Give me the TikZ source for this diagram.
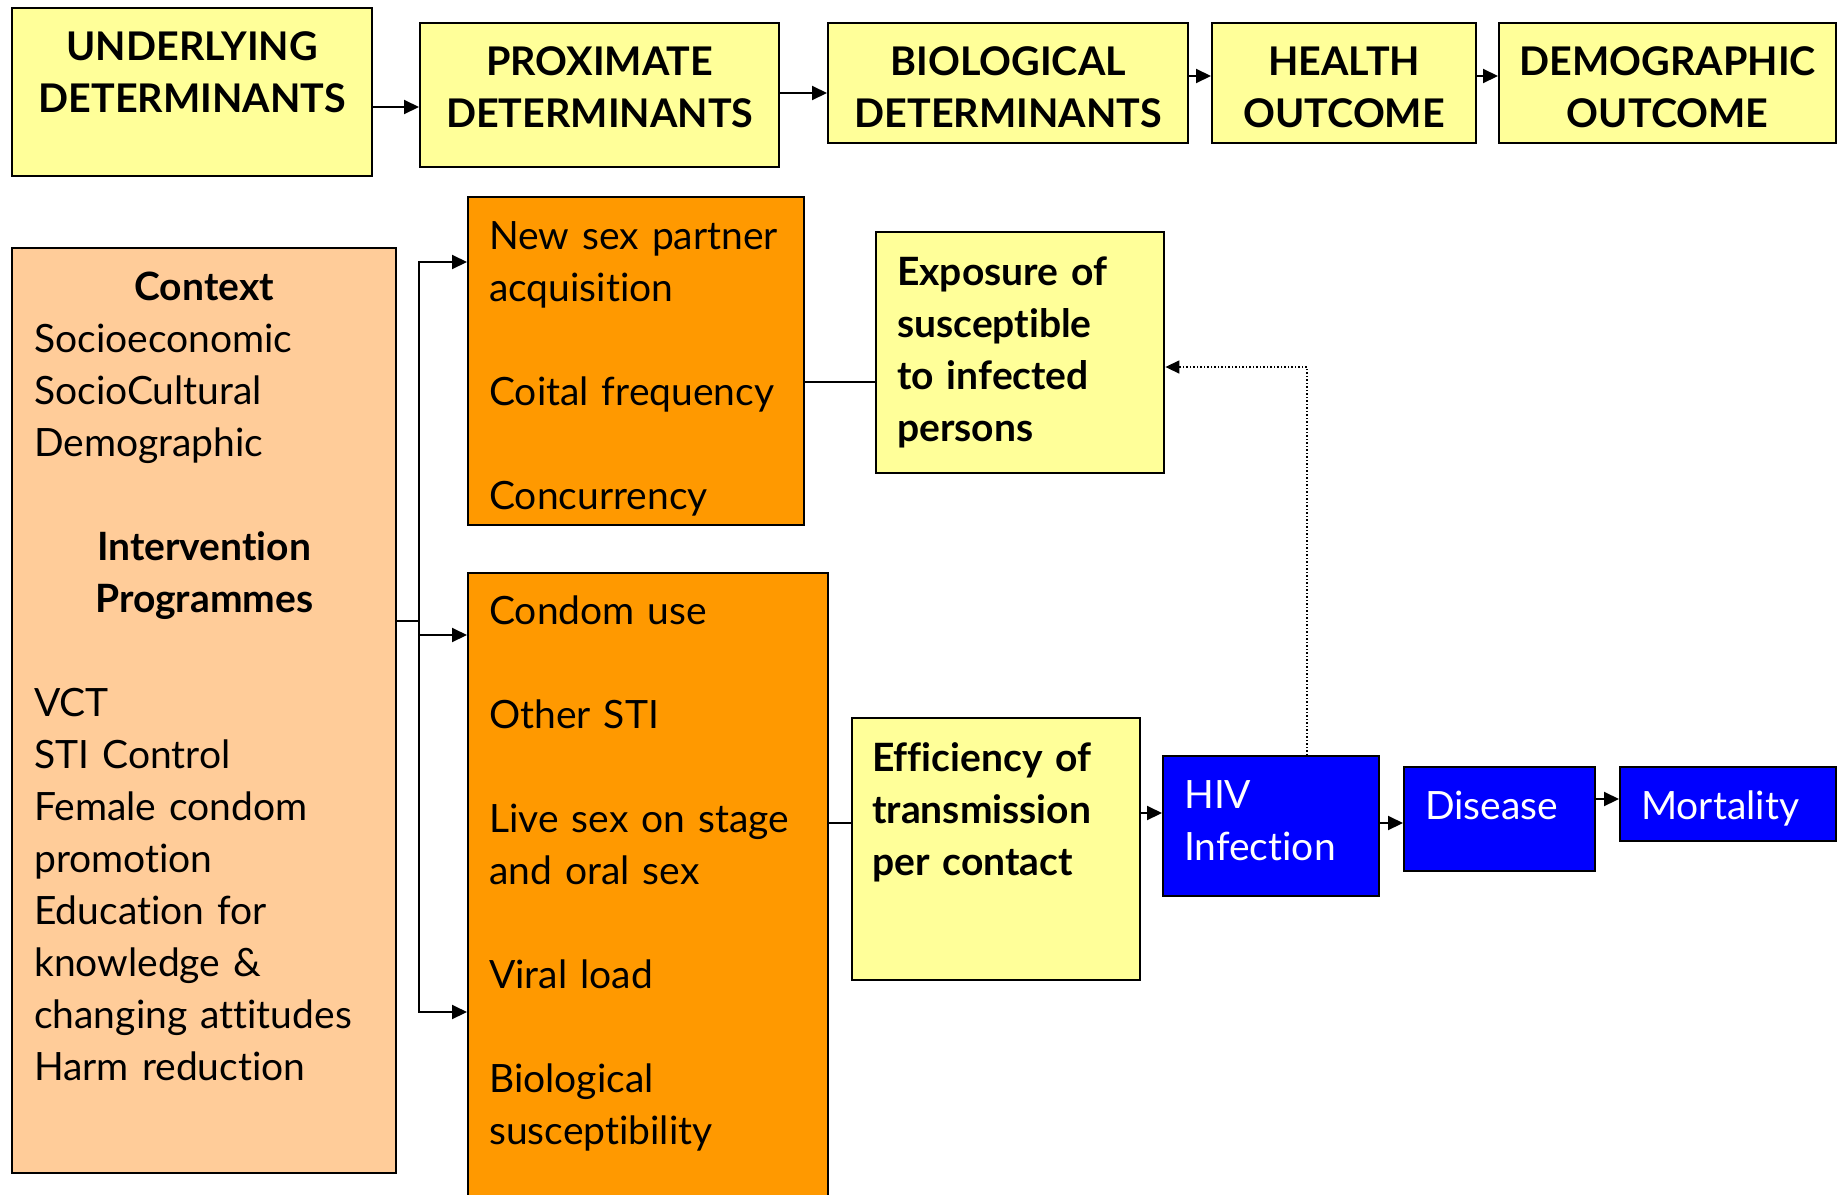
\documentclass[tikz,border=0pt]{standalone}
\usepackage{fontspec}
\setmainfont{Lato}[Ligatures=NoCommon]
\usetikzlibrary{arrows.meta}
\definecolor{headyellow}{HTML}{FFFF99}
\definecolor{peach}{HTML}{FFCC99}
\definecolor{amber}{HTML}{FF9900}
\definecolor{hivblue}{HTML}{0000FF}
\begin{document}
\begin{tikzpicture}[x=1pt, y=-1pt,
	box/.style={draw, line width=2.4pt, anchor=north west, inner ysep=0pt, align=left, font=\fontsize{39}{52}\selectfont},
	head/.style={box, fill=headyellow, inner xsep=0pt, align=center, font=\fontsize{39.5}{52}\selectfont\bfseries},
	yellowbox/.style={box, fill=headyellow, font=\fontsize{39}{52}\selectfont\bfseries},
	bluebox/.style={box, fill=hivblue, text=white},
	line/.style={line width=2pt},
	arr/.style={line width=2pt, -{Triangle[length=15pt,width=14pt]}},
	fbarr/.style={line width=1.5pt, dotted, -{Triangle[length=14pt,width=13pt]}}]
		\useasboundingbox (0,0) rectangle (1841,1194);
		\fill[white] (0,0) rectangle (1841,1194);
		
		% top row
		\node (under) at (11,7) [head, text width=360pt, text height=52pt, text depth=116pt] {UNDERLYING\\DETERMINANTS};
		\node (prox) at (419,22) [head, text width=359pt, text height=52pt, text depth=92pt] {PROXIMATE\\DETERMINANTS};
		\node (bio) at (827,22) [head, text width=360pt, text height=52pt, text depth=68pt] {BIOLOGICAL\\DETERMINANTS};
		\node (health) at (1211,22) [head, text width=264pt, text height=52pt, text depth=68pt] {HEALTH\\OUTCOME};
		\node (demo) at (1498,22) [head, text width=337pt, text height=52pt, text depth=68pt] {DEMOGRAPHIC\\OUTCOME};
		
		\draw [arr] (under.east |- 0,107) -- (prox.west |- 0,107);
		\draw [arr] (prox.east |- 0,93) -- (bio.west |- 0,93);
		\draw [arr] (bio.east |- 0,76) -- (health.west |- 0,76);
		\draw [arr] (health.east |- 0,76) -- (demo.west |- 0,76);
		
		% underlying determinants
		\node (ctx) at (11,247) [box, fill=peach, inner xsep=22pt, text width=340pt, text height=52pt, text depth=873pt] {%
			\makebox[\linewidth]{\bfseries Context}\\
			Socioeconomic\\
			SocioCultural\\
			Demographic\\[52pt]
			\makebox[\linewidth]{\bfseries Intervention}\\
			\makebox[\linewidth]{\bfseries Programmes}\\[52pt]
			VCT\\
			STI Control\\
			Female condom\\
			promotion\\
			Education for\\
			knowledge \&\\
			changing attitudes\\
			Harm reduction};
		
		% proximate determinants
		\node (net) at (467,196) [box, fill=amber, inner xsep=21pt, text width=294pt, text height=52pt, text depth=276pt] {New sex partner\\acquisition\\[52pt]Coital frequency\\[52pt]Concurrency};
		\node (risk) at (467,572) [box, fill=amber, inner xsep=21pt, text width=318pt, text height=51pt, text depth=582pt] {Condom use\\[52pt]Other STI\\[52pt]Live sex on stage\\and oral sex\\[52pt]Viral load\\[52pt]Biological\\susceptibility};
		
		% biological determinants
		\node (expo) at (875,231) [yellowbox, inner xsep=21pt, text width=246pt, text height=53pt, text depth=188pt] {Exposure of\\susceptible\\to infected\\persons};
		\node (eff) at (851,717) [yellowbox, inner xsep=20pt, text width=248pt, text height=53pt, text depth=209pt] {Efficiency of\\transmission\\per contact};
		
		% outcomes
		\node (hiv) at (1162,755) [bluebox, inner xsep=21pt, text width=174pt, text height=52pt, text depth=88pt] {HIV\\Infection};
		\node (dis) at (1403,766) [bluebox, inner xsep=21pt, text width=149pt, text height=52pt, text depth=52pt] {Disease};
		\node (mort) at (1619,766) [bluebox, inner xsep=21pt, text width=174pt, text height=52pt, text depth=22pt] {Mortality};
		
		\coordinate (br) at (419,621);
		\draw [line] (ctx.east |- br) -- (br);
		\draw [arr] (br) |- (net.west |- 0,262);
		\draw [arr] (br) |- (risk.west |- 0,635);
		\draw [arr] (br) |- (risk.west |- 0,1012);
		
		\draw [line] (net.east |- 0,382) -- (expo.west |- 0,382);
		\draw [line] (risk.east |- 0,823) -- (eff.west |- 0,823);
		\draw [arr] (eff.east |- 0,813) -- (hiv.west |- 0,813);
		\draw [arr] (hiv.east |- 0,823) -- (dis.west |- 0,823);
		\draw [arr] (dis.east |- 0,799) -- (mort.west |- 0,799);
		
		\coordinate (fb) at (1307,367);
		\draw [fbarr] (hiv.north -| fb) -- (fb) -- (expo.east |- fb);
\end{tikzpicture}
\end{document}
